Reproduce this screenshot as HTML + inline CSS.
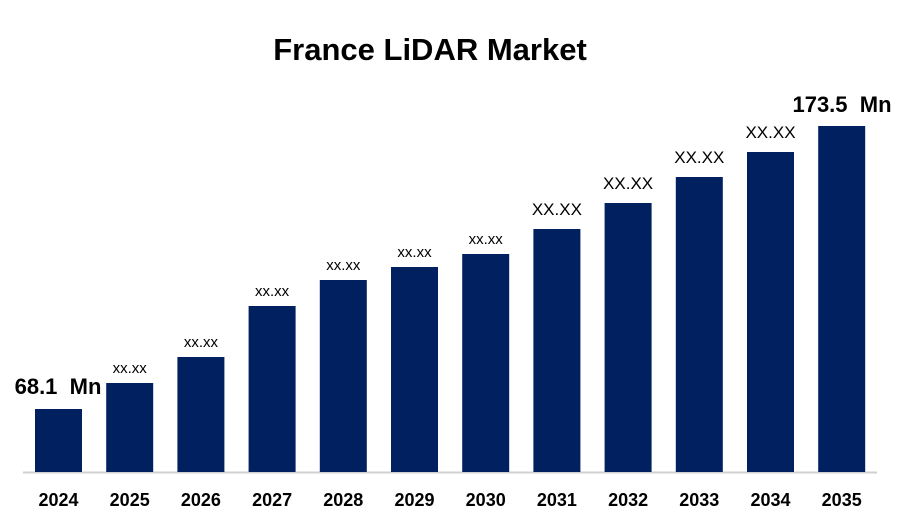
<!DOCTYPE html>
<html><head><meta charset="utf-8"><style>
body{margin:0;background:#fff;}
svg{display:block;font-family:"Liberation Sans",Arial,sans-serif;}
</style></head><body>
<svg id="chart" width="900" height="525">
<text x="430" y="60" text-anchor="middle" font-size="31" font-weight="bold" fill="#000">France LiDAR Market</text>
<line x1="23" y1="472.5" x2="877" y2="472.5" stroke="#d0d0d0" stroke-width="2"/>
</svg>
<script>
const categories=["2024","2025","2026","2027","2028","2029","2030","2031","2032","2033","2034","2035"];
const values=[63,89,115,166,192,205,218,243,269,295,320,346];
const labels=["68.1  Mn","xx.xx","xx.xx","xx.xx","xx.xx","xx.xx","xx.xx","XX.XX","XX.XX","XX.XX","XX.XX","173.5  Mn"];
const svg=document.getElementById('chart');
const NS="http://www.w3.org/2000/svg";
const baseY=472, x0=35, step=71.2, bw=47, maxV=346, maxH=346;
function xPos(i){return x0+i*step;}
function yPos(v){return baseY-v/maxV*maxH;}
categories.forEach((c,i)=>{
  const r=document.createElementNS(NS,'rect');
  r.setAttribute('x',xPos(i));r.setAttribute('y',yPos(values[i]));
  r.setAttribute('width',bw);r.setAttribute('height',baseY-yPos(values[i]));
  r.setAttribute('fill','#002060');
  
  
  svg.appendChild(r);
  const t=document.createElementNS(NS,'text');
  t.setAttribute('x',xPos(i)+bw/2);t.setAttribute('y',506);
  t.setAttribute('text-anchor','middle');t.setAttribute('font-size','18');t.setAttribute('font-weight','bold');
  t.textContent=c;
  
  
  svg.appendChild(t);
  const l=document.createElementNS(NS,'text');
  let cx=xPos(i)+bw/2, fs=15, fw='normal', ly=yPos(values[i])-10;
  if(i===0){cx=58;fs=22;fw='bold';ly=yPos(values[i])-15;}
  else if(i===categories.length-1){cx=842;fs=22;fw='bold';ly=yPos(values[i])-14;}
  else if(labels[i]==="XX.XX"){fs=17;ly=yPos(values[i])-14;}
  l.setAttribute('x',cx);l.setAttribute('y',ly);l.setAttribute('text-anchor','middle');
  l.setAttribute('font-size',fs);l.setAttribute('font-weight',fw);l.setAttribute('xml:space','preserve');
  l.setAttribute('style','white-space:pre');
  l.textContent=labels[i];
  
  
  svg.appendChild(l);
});
</script>
</body></html>
